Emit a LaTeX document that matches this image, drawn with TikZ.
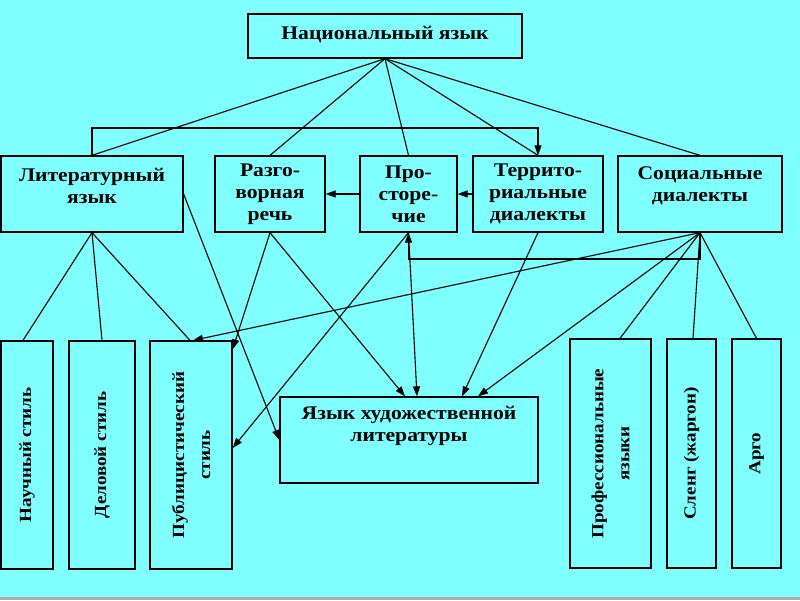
\documentclass[tikz,border=0pt]{standalone}
\usepackage{fontspec}
\setmainfont{Liberation Serif}[FakeStretch=1.12]
\usetikzlibrary{arrows.meta,calc}
\definecolor{bg}{RGB}{128,255,255}
\begin{document}
\begin{tikzpicture}[x=1pt,y=-1pt,
  box/.style={draw, line width=1.3pt, inner sep=0pt},
  htext/.style={font=\bfseries\fontsize{19.3}{22}\selectfont, align=center, inner sep=0pt},
  vtext/.style={font=\bfseries\fontsize{17}{26}\selectfont, align=center, inner sep=0pt, rotate=90},
  conn/.style={line width=1.1pt},
  arr/.style={conn, -{Triangle[length=10pt,width=7pt]}},
]
\fill[bg] (0,0) rectangle (800,600);
\fill[gray!65] (0,597) rectangle (800,600);
\useasboundingbox (0,0) rectangle (800,600);

% boxes
\node[box, minimum width=274pt, minimum height=44pt] (nat) at (385,36) {};
\node[box, minimum width=182pt, minimum height=76pt] (lit) at (92,194) {};
\node[box, minimum width=110pt, minimum height=76pt] (razg) at (270,194) {};
\node[box, minimum width=97pt, minimum height=76pt] (prost) at (408.5,194) {};
\node[box, minimum width=130pt, minimum height=76pt] (terr) at (538,194) {};
\node[box, minimum width=164pt, minimum height=76pt] (soc) at (700,194) {};
\node[box, minimum width=52pt, minimum height=228pt] (nauch) at (27,455) {};
\node[box, minimum width=66pt, minimum height=228pt] (delov) at (102,455) {};
\node[box, minimum width=82pt, minimum height=228pt] (publ) at (191,455) {};
\node[box, minimum width=258pt, minimum height=86pt] (hud) at (409,440) {};
\node[box, minimum width=81pt, minimum height=229pt] (prof) at (610.5,453.5) {};
\node[box, minimum width=49pt, minimum height=229pt] (sleng) at (691.5,453.5) {};
\node[box, minimum width=49pt, minimum height=229pt] (argo) at (756.5,453.5) {};

% texts
\node[htext] (tnat) at (385,35) {Национальный язык};
\node[htext] (tlit) at (92,186) {Литературный\\язык};
\node[htext] (trazg) at (270,194) {Разго-\\ворная\\речь};
\node[htext] (tprost) at (408.5,194) {Про-\\сторе-\\чие};
\node[htext] (tterr) at (538,194) {Террито-\\риальные\\диалекты};
\node[htext] (tsoc) at (700,186) {Социальные\\диалекты};
\node[htext, anchor=north] (thud) at (409,406) {Язык художественной\\литературы};
\node[vtext] (tnauch) at (27,455) {Научный стиль};
\node[vtext] (tdelov) at (102,455) {Деловой стиль};
\node[vtext] (tpubl) at (191,455) {Публицистический\\стиль};
\node[vtext] (tprof) at (610.5,453.5) {Профессиональные\\языки};
\node[vtext] (tsleng) at (691.5,453.5) {Сленг (жаргон)};
\node[vtext] (targo) at (756.5,453.5) {Арго};

% helper coordinates
\coordinate (b1) at (0,128);
\coordinate (b2) at (0,259);

% from national language
\draw[conn] (nat.south) -- (lit.north);
\draw[conn] (nat.south) -- (razg.north);
\draw[conn] (nat.south) -- (prost.north);
\draw[conn] (nat.south) -- (terr.north);
\draw[conn] (nat.south) -- (soc.north);
\draw[arr] (lit.north) -- (lit.north |- b1) -| (terr.north);

% horizontal arrows
\draw[arr] (prost.west) -- (razg.east);
\draw[arr] (terr.west) -- (prost.east);

% literary language
\draw[conn] (lit.south) -- ([xshift=-4pt]nauch.north);
\draw[conn] (lit.south) -- (delov.north);
\draw[conn] (lit.south) -- ([xshift=-1pt]publ.north);
\draw[arr] (lit.east) -- (hud.west);

% colloquial speech
\draw[arr] (razg.south) -- ([yshift=-9pt]publ.north east);
\draw[arr] (razg.south) -- ([xshift=-4pt]hud.north);

% prostorechie
\draw[arr] (prost.south) -- ([xshift=8pt]hud.north);
\draw[arr] (prost.south) -- ([yshift=7pt]publ.east);

% territorial
\draw[arr] (terr.south) -- ([xshift=53pt]hud.north);

% social
\draw[arr] (soc.south) -- (soc.south |- b2) -| (prost.south);
\draw[arr] (soc.south) -- ([xshift=2pt]publ.north);
\draw[arr] (soc.south) -- ([xshift=69pt]hud.north);
\draw[conn] (soc.south) -- ([xshift=9.5pt]prof.north);
\draw[conn] (soc.south) -- ([xshift=1.5pt]sleng.north);
\draw[conn] (soc.south) -- (argo.north);
\end{tikzpicture}
\end{document}
